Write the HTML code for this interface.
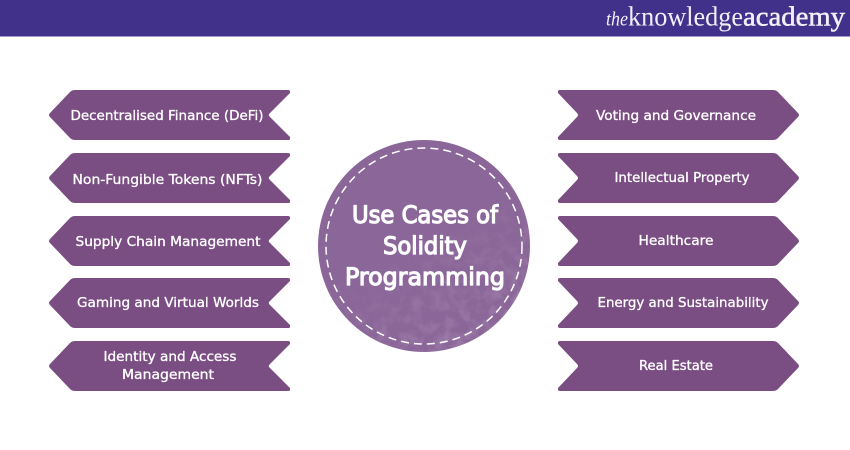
<!DOCTYPE html>
<html lang="en">
<head>
<meta charset="utf-8">
<title>Use Cases of Solidity Programming</title>
<style>
html,body{margin:0;padding:0;background:#fff;width:850px;height:450px;overflow:hidden}
svg{display:block}
.l{font-family:"DejaVu Sans",sans-serif;fill:#fff;font-size:13px;text-anchor:middle;stroke:#fff;stroke-width:.3px}
.c{font-family:"DejaVu Sans",sans-serif;fill:#fff;font-size:24px;stroke:#fff;stroke-width:1.2px;text-anchor:middle}
.logo{font-family:"Liberation Serif",serif;fill:#f2eff7}
</style>
</head>
<body>
<svg xmlns="http://www.w3.org/2000/svg" width="850" height="450" viewBox="0 0 850 450">
<defs>
<path id="la" d="M290 91.500 L290 93 L269.500 113.500 Q268 115 269.500 116.500 L290 137 L290 139 Q290 140 288 140 L75 140 Q72 140 70 138 L50 117 Q48 115 50 113 L70 92 Q72 90 75 90 L288 90 Q290 90 290 91.500Z" fill="#7a4e83"/>
<path id="ra" d="M558 91.500 Q558 90 560 90 L773 90 Q776 90 778 92 L798 113 Q800 115 798 117 L778 138 Q776 140 773 140 L560 140 Q558 140 558 138.500 L558 137 L577 117 Q579 115 577 113 L558 93Z" fill="#7a4e83"/>
<filter id="grain" x="0" y="0" width="100%" height="100%">
<feTurbulence type="fractalNoise" baseFrequency="0.09" numOctaves="4" seed="4"/>
<feColorMatrix values="0 0 0 0 0.60  0 0 0 0 0.47  0 0 0 0 0.65  1.1 0 0 0 -0.42"/>
</filter>
<clipPath id="cc"><circle cx="424" cy="246" r="106"/></clipPath>
<linearGradient id="fade" x1="0.2" y1="0" x2="0.75" y2="1">
<stop offset="0.45" stop-color="#000"/><stop offset="1" stop-color="#aaa"/>
</linearGradient>
<mask id="fm"><rect x="318" y="140" width="212" height="212" fill="url(#fade)"/></mask>
</defs>

<rect x="0" y="0" width="850" height="36.500" fill="#41318a"/>
<text class="logo" x="606" y="25.500" font-size="20" font-style="italic" textLength="22" lengthAdjust="spacingAndGlyphs">the</text>
<text class="logo" x="628" y="25.500" font-size="27" textLength="115" lengthAdjust="spacingAndGlyphs">knowledge</text>
<text class="logo" x="743" y="25.500" font-size="27" stroke="#f2eff7" stroke-width=".5" textLength="102" lengthAdjust="spacingAndGlyphs">academy</text>

<use href="#la"/>
<use href="#la" y="63"/>
<use href="#la" y="126"/>
<use href="#la" y="188"/>
<use href="#la" y="251"/>
<use href="#ra"/>
<use href="#ra" y="63"/>
<use href="#ra" y="126"/>
<use href="#ra" y="188"/>
<use href="#ra" y="251"/>

<text class="l" x="167" y="120" textLength="193" lengthAdjust="spacingAndGlyphs">Decentralised Finance (DeFi)</text>
<text class="l" x="167.500" y="184" textLength="190" lengthAdjust="spacingAndGlyphs">Non-Fungible Tokens (NFTs)</text>
<text class="l" x="168" y="246" textLength="185" lengthAdjust="spacingAndGlyphs">Supply Chain Management</text>
<text class="l" x="168" y="307" textLength="182" lengthAdjust="spacingAndGlyphs">Gaming and Virtual Worlds</text>
<text class="l" x="170" y="361" textLength="133" lengthAdjust="spacingAndGlyphs">Identity and Access</text>
<text class="l" x="168" y="379" textLength="92" lengthAdjust="spacingAndGlyphs">Management</text>

<text class="l" x="676" y="120" textLength="160" lengthAdjust="spacingAndGlyphs">Voting and Governance</text>
<text class="l" x="682" y="182" textLength="135" lengthAdjust="spacingAndGlyphs">Intellectual Property</text>
<text class="l" x="676" y="245" textLength="75" lengthAdjust="spacingAndGlyphs">Healthcare</text>
<text class="l" x="683" y="307" textLength="171" lengthAdjust="spacingAndGlyphs">Energy and Sustainability</text>
<text class="l" x="676" y="370" textLength="74" lengthAdjust="spacingAndGlyphs">Real Estate</text>

<circle cx="424" cy="246" r="106" fill="#8b6799"/>
<g clip-path="url(#cc)" mask="url(#fm)">
<rect x="318" y="140" width="212" height="212" filter="url(#grain)"/>
</g>
<circle cx="424" cy="246" r="98" fill="none" stroke="#fff" stroke-width="1.500" stroke-dasharray="8 5"/>

<text class="c" x="425" y="223" textLength="146" lengthAdjust="spacingAndGlyphs">Use Cases of</text>
<text class="c" x="425" y="254" textLength="84" lengthAdjust="spacingAndGlyphs">Solidity</text>
<text class="c" x="425" y="285" textLength="160" lengthAdjust="spacingAndGlyphs">Programming</text>
</svg>
</body>
</html>
